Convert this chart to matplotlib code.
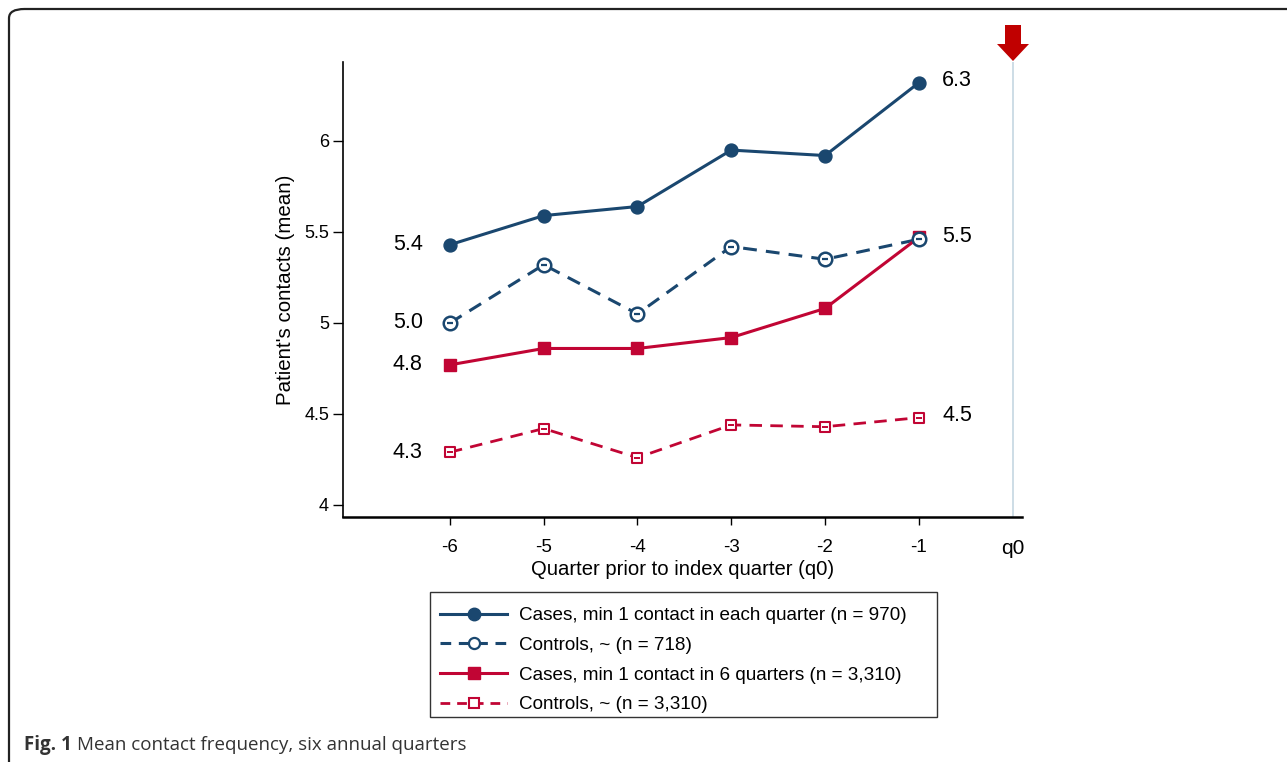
import matplotlib
matplotlib.use("Agg")
import matplotlib.pyplot as plt
from matplotlib.patches import FancyBboxPatch, FancyArrow, Rectangle
from matplotlib.lines import Line2D

plt.rcParams['font.family'] = ['Liberation Sans', 'DejaVu Sans']

quarters = [-6, -5, -4, -3, -2, -1]
cases_each = [5.43, 5.59, 5.64, 5.95, 5.92, 6.32]
controls_each = [5.00, 5.32, 5.05, 5.42, 5.35, 5.46]
cases_six = [4.77, 4.86, 4.86, 4.92, 5.08, 5.47]
controls_six = [4.29, 4.42, 4.26, 4.44, 4.43, 4.48]

left_labels = ["5.4", "5.0", "4.8", "4.3"]
right_labels = ["6.3", "5.5", "4.5"]
series_names = ["Cases, min 1 contact in each quarter (n = 970)",
                "Controls, ~ (n = 718)",
                "Cases, min 1 contact in 6 quarters (n = 3,310)",
                "Controls, ~ (n = 3,310)"]
xtick_vals = [-6, -5, -4, -3, -2, -1, 0]
xtick_labels = ["-6", "-5", "-4", "-3", "-2", "-1", "q0"]
ytick_vals = [4, 4.5, 5, 5.5, 6]
ytick_labels = ["4", "4.5", "5", "5.5", "6"]

BLUE = "#1a476f"
RED = "#c10534"

W, H = 1287, 762
fig = plt.figure(figsize=(W / 100, H / 100), dpi=100)

# page frame
frame = FancyBboxPatch((9 / W, -0.05), 1.2, (H - 9) / H + 0.05,
                       boxstyle="round,pad=0,rounding_size=0.012",
                       transform=fig.transFigure, fill=False,
                       edgecolor="#222222", linewidth=1.6, clip_on=False)
fig.add_artist(frame)

ax = fig.add_axes([343 / W, 1 - 517 / H, (1022 - 343) / W, (517 - 62) / H])
ax.set_xlim(-7.14, 0.10)
ax.set_ylim(3.934, 6.434)

ax.axvline(0, color="#c9dae4", linewidth=1.3, zorder=1)

ax.plot(quarters, cases_each, color=BLUE, lw=2.2, marker="o", ms=9.3,
        mfc=BLUE, mec=BLUE, zorder=3)
ax.plot(quarters, controls_each, color=BLUE, lw=2.2, ls=(0, (4.5, 3)), zorder=3)
ax.scatter(quarters, controls_each, s=95, facecolors="white",
           edgecolors=BLUE, linewidths=1.8, zorder=4)
ax.scatter(quarters, controls_each, s=20, color=BLUE, zorder=5, marker="_",
           linewidths=1.6)
ax.plot(quarters, cases_six, color=RED, lw=2.2, marker="s", ms=8,
        mfc=RED, mec=RED, zorder=3)
ax.plot(quarters, controls_six, color=RED, lw=2.0, ls=(0, (4.5, 3)), zorder=3)
ax.scatter(quarters, controls_six, s=55, marker="s", facecolors="white",
           edgecolors=RED, linewidths=1.5, zorder=4)
ax.scatter(quarters, controls_six, s=14, color=RED, zorder=5, marker="_",
           linewidths=1.4)

# value labels
lefts = [cases_each[0], controls_each[0], cases_six[0], controls_six[0]]
for v, t in zip(lefts, left_labels):
    ax.text(-6.29, v, t, ha="right", va="center", fontsize=15.5)
rights = [cases_each[-1], (controls_each[-1] + cases_six[-1]) / 2, controls_six[-1]]
for v, t in zip(rights, right_labels):
    ax.text(-0.75, v + 0.01, t, ha="left", va="center", fontsize=15.5)

for s in ["top", "right"]:
    ax.spines[s].set_visible(False)
ax.spines["left"].set_linewidth(1.2)
ax.spines["bottom"].set_linewidth(1.8)

ax.set_xticks(xtick_vals)
ax.set_xticklabels(xtick_labels, fontsize=13.5)
ax.set_yticks(ytick_vals)
ax.set_yticklabels(ytick_labels, fontsize=13)
ax.tick_params(axis="x", length=6, width=1.0, pad=10)
ax.tick_params(axis="y", length=7, width=1.0, pad=3)
for t in ax.xaxis.get_major_ticks():
    if t.get_loc() == 0:
        t.tick1line.set_visible(False)
        t.label1.set_fontsize(15)
ax.set_xlabel("Quarter prior to index quarter (q0)", fontsize=14.6, labelpad=1)
ax.set_ylabel("Patient's contacts (mean)", fontsize=14.8, labelpad=7)

# red arrow
arrow = FancyArrow(1013 / W, 1 - 25 / H, 0, -36 / H, width=16 / W,
                   head_width=32 / W, head_length=17 / H,
                   length_includes_head=True, transform=fig.transFigure,
                   color="#c00000", linewidth=0)
fig.add_artist(arrow)

# legend
handles = [
    Line2D([], [], color=BLUE, lw=2.2, marker="o", ms=9, mfc=BLUE),
    Line2D([], [], color=BLUE, lw=2.2, ls=(0, (3.5, 2.5)), marker="o", ms=8,
           mfc="white", mec=BLUE, mew=1.6),
    Line2D([], [], color=RED, lw=2.2, marker="s", ms=8, mfc=RED),
    Line2D([], [], color=RED, lw=2.0, ls=(0, (3.5, 2.5)), marker="s", ms=7,
           mfc="white", mec=RED, mew=1.5),
]
leg = fig.legend(handles, series_names, loc="upper left",
                 bbox_to_anchor=(440 / W, 1 - 607 / H), fontsize=13.6,
                 frameon=False, handlelength=3.55, handletextpad=0.62,
                 labelspacing=0.66, borderpad=0, borderaxespad=0)
box = Rectangle((430 / W, 1 - 717 / H), (937 - 430) / W, (717 - 592) / H,
                transform=fig.transFigure, fill=False, edgecolor="#333333",
                linewidth=1.0)
fig.add_artist(box)

# caption
fig.text(24 / W, 1 - 745 / H, "Fig. 1", fontsize=13.5, fontweight="bold",
         color="#333333", va="center", ha="left",
         family=["Open Sans", "DejaVu Sans"])
fig.text(77 / W, 1 - 745 / H, "Mean contact frequency, six annual quarters",
         fontsize=13.5, color="#333333", va="center", ha="left",
         family=["Open Sans", "DejaVu Sans"])

fig.savefig("out.png", dpi=100)
